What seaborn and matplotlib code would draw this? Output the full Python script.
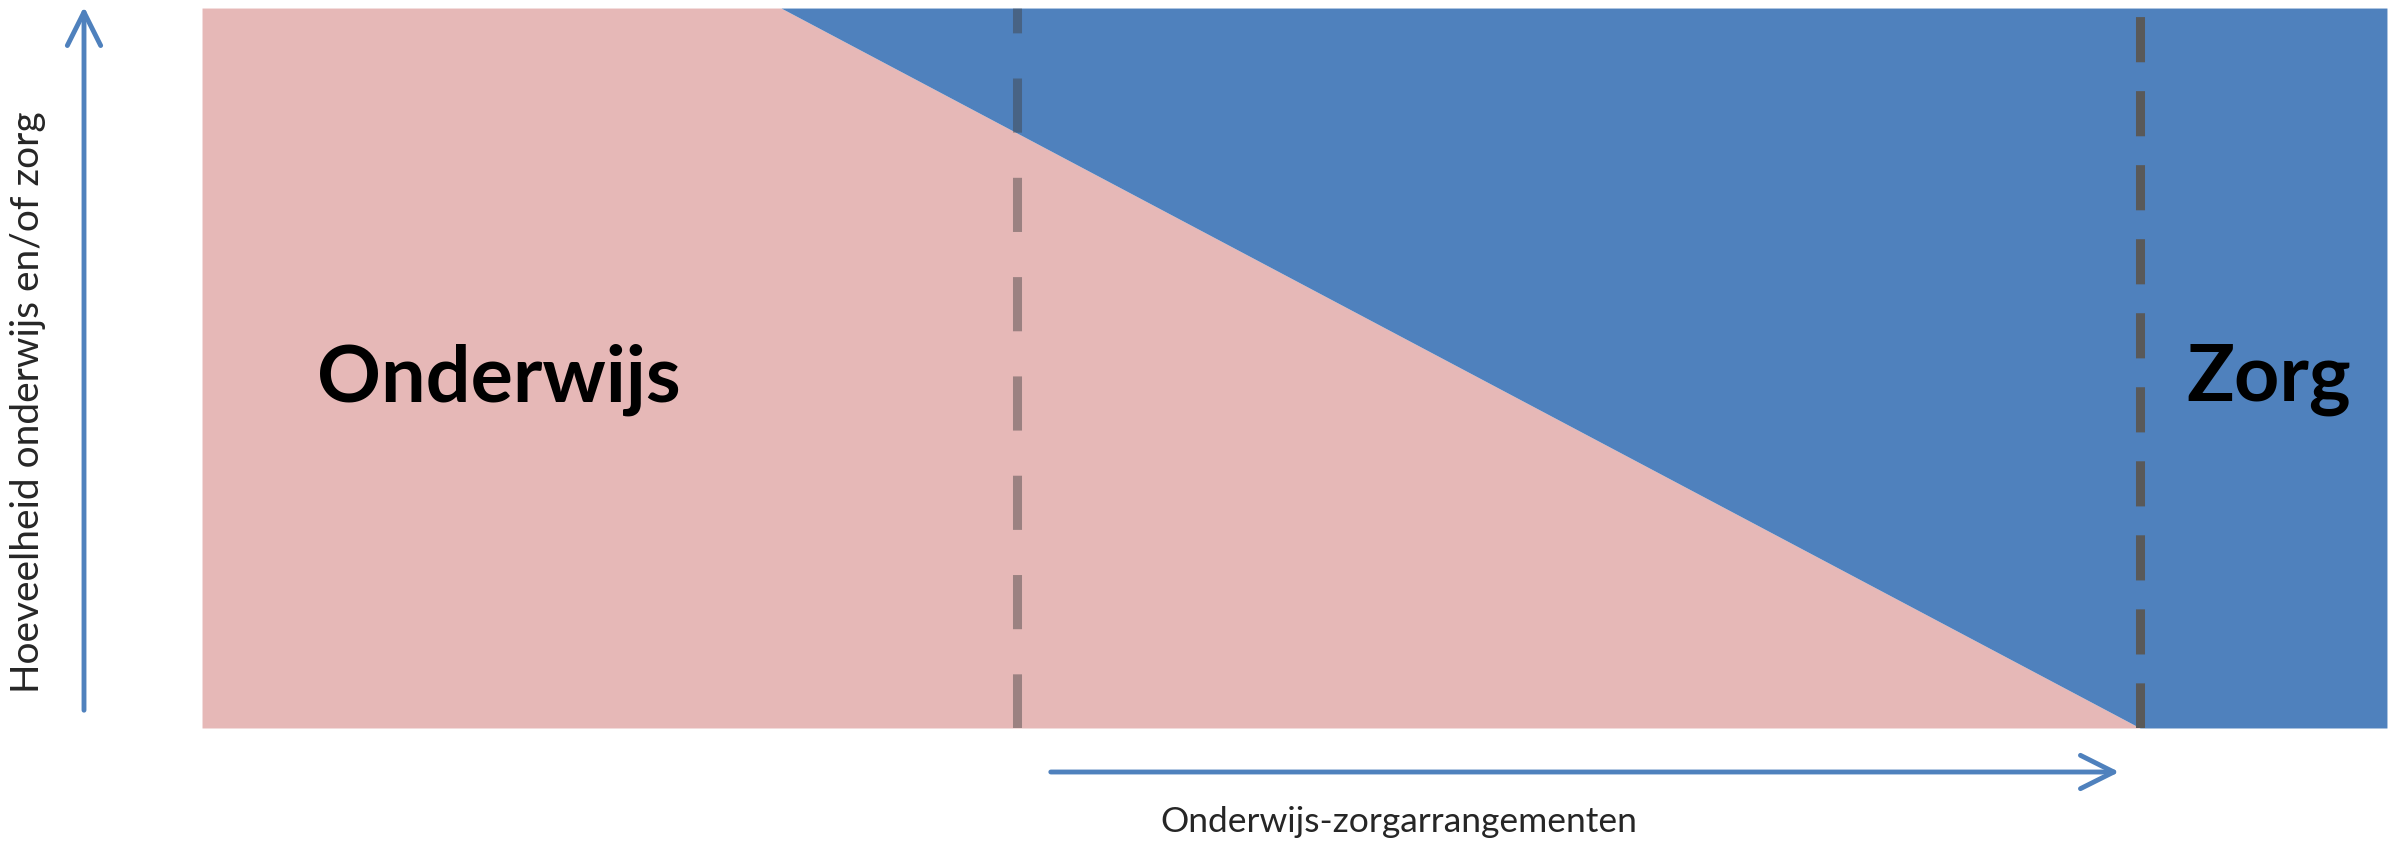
import matplotlib
matplotlib.use("Agg")
import matplotlib.pyplot as plt
import seaborn as sns

# Horizontal positions (% of the arrangement range) and the share of onderwijs
positions = [0, 26.5, 88.7, 100]
onderwijs_share = [100, 100, 0, 0]
zorg_share = [100 - v for v in onderwijs_share]
boundaries = [37.3, 88.7]

region_labels = ["Onderwijs", "Zorg"]
x_label = "Onderwijs-zorgarrangementen"
y_label = "Hoeveelheid onderwijs en/of zorg"

PINK = "#E6B8B7"
BLUE = "#4F81BD"

sns.set_theme(style="white")
plt.rcParams["font.family"] = ["Lato", "DejaVu Sans"]

fig = plt.figure(figsize=(24.05, 8.46), dpi=100)
ax = fig.add_axes([0.084, 0.1395, 0.9085, 0.851])

ax.fill_between(positions, 0, onderwijs_share, color=PINK, linewidth=0)
ax.fill_between(positions, onderwijs_share, 100, color=BLUE, linewidth=0)

# dashed boundaries
ax.axvline(boundaries[0], color="#404040", alpha=0.45, lw=6.5, dashes=(6, 5))
ax.axvline(boundaries[1], color="#595959", lw=6.5, dashes=(5, 3.2))

ax.text(13.6, 48.3, region_labels[0], fontsize=57, fontweight="bold",
        ha="center", va="center", color="black")
ax.text(94.6, 48.3, region_labels[1], fontsize=57, fontweight="bold",
        ha="center", va="center", color="black")

ax.set_xlim(0, 100)
ax.set_ylim(0, 100)
ax.axis("off")

# axis arrows in figure coordinates
arrow_kw = dict(arrowstyle="->,head_length=1.2,head_width=0.6", color=BLUE, lw=3.5,
                mutation_scale=20)
fig.add_artist(matplotlib.patches.FancyArrowPatch(
    (1048 / 2405, 1 - 772 / 846), (2122 / 2405, 1 - 772 / 846),
    transform=fig.transFigure, **arrow_kw))
fig.add_artist(matplotlib.patches.FancyArrowPatch(
    (84 / 2405, 1 - 713 / 846), (84 / 2405, 1 - 4 / 846),
    transform=fig.transFigure, **arrow_kw))

fig.text(1399 / 2405, 1 - 822 / 846, x_label, fontsize=25.5, ha="center", va="center")
fig.text(28 / 2405, 1 - 402 / 846, y_label, fontsize=28, ha="center", va="center",
         rotation=90)

fig.savefig("out.png", dpi=100, facecolor="white")
